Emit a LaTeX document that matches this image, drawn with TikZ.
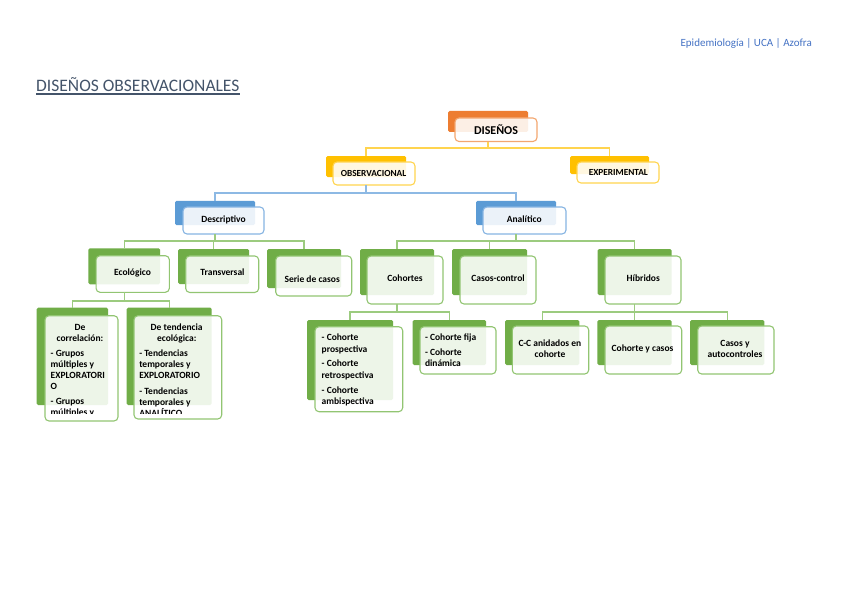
\documentclass[tikz,border=0pt]{standalone}
\usepackage{fontspec}
\setmainfont{Carlito}
\definecolor{backO}{HTML}{ED7D31}
\definecolor{bordO}{HTML}{F3A66F}
\definecolor{backY}{HTML}{FFC000}
\definecolor{bordY}{HTML}{FFD54F}
\definecolor{lineY}{HTML}{FFD44F}
\definecolor{backB}{HTML}{5B9BD5}
\definecolor{bordB}{HTML}{86B4E2}
\definecolor{lineB}{HTML}{8DB9E4}
\definecolor{backG}{HTML}{70AD47}
\definecolor{bordG}{HTML}{92C572}
\definecolor{lineG}{HTML}{9CCB7F}
\definecolor{titleC}{HTML}{44546A}
\definecolor{hdrC}{HTML}{4472C4}
\tikzset{
  backbox/.style={rectangle, rounded corners=1.5pt, inner sep=0pt, outer sep=0pt, draw=none},
  frontbox/.style={rectangle, rounded corners=4pt, inner sep=0pt, outer sep=0pt, fill=white, fill opacity=0.88, line width=1.1pt},
  lbl/.style={inner sep=0pt, outer sep=0pt, font=\fontsize{9.5}{11}\selectfont\bfseries, text height=6.6pt, text depth=0pt},
  capslbl/.style={lbl, font=\fontsize{9.3}{11}\selectfont\bfseries, text height=6pt},
  mlbl/.style={inner sep=0pt, outer sep=0pt, font=\fontsize{9.5}{11}\selectfont\bfseries},
  conn/.style={line width=1.2pt},
}
\newcommand\mkbox[8]{%
  \node[backbox, fill=back#2, minimum width=#4pt, minimum height=#5pt] (#1B) at (#3) {};
  \node[frontbox, draw=bord#2, minimum width=#7pt, minimum height=#8pt] (#1) at (#6) {};
}
\begin{document}
\begin{tikzpicture}[x=1pt,y=-1pt]
\useasboundingbox (0,0) rectangle (848,599);
\fill[white] (0,0) rectangle (848,599);

% header and title
\node[anchor=base east, inner sep=0pt, font=\fontsize{11}{13}\selectfont, text=hdrC] (hdr) at (812,46.3) {Epidemiología | UCA | Azofra};
\node[anchor=base west, inner sep=0pt, font=\fontsize{17.5}{20}\selectfont, text=titleC] (title) at (36,91.5) {DISEÑOS OBSERVACIONALES};
\draw[titleC, line width=1.1pt] ([yshift=-2.5pt]title.base west) -- ([yshift=-2.5pt]title.base east);

% junction coordinates
\coordinate (disJ) at (488,148);
\coordinate (obsJ) at (366,193);
\coordinate (desJ) at (215,241);
\coordinate (anaJ) at (516,241);
\coordinate (ecoJ) at (124.2,301);
\coordinate (cohJ) at (397,312);
\coordinate (hibJ) at (634.7,312);

% boxes (back then front)
\mkbox{dis}{O}{488,121.5}{80}{21}{496,129.75}{82}{23.5}
\mkbox{obs}{Y}{366,166.5}{80}{21}{374,173.5}{82}{23}
\mkbox{exp}{Y}{609.5,165}{79}{18}{618,172.5}{82}{21}
\mkbox{des}{B}{215,212.9}{80}{24.3}{223.5,220.5}{81}{27}
\mkbox{ana}{B}{516,212.9}{80}{24.3}{524.5,220.5}{83}{27}
\mkbox{eco}{G}{124.2,266.3}{71.7}{36}{132.7,274}{73.3}{36.6}
\mkbox{tra}{G}{213.5,266.5}{71}{35}{222.2,274.2}{73}{36.5}
\mkbox{ser}{G}{304,268.5}{74}{39}{313.7,276}{76}{40}
\mkbox{coh}{G}{397,272}{74}{46}{405,280}{76}{48}
\mkbox{cc}{G}{489.5,272}{75}{46}{498,280}{76}{48}
\mkbox{hib}{G}{634.7,272}{74}{46}{643,280}{76}{48}
\mkbox{cor}{G}{72.35,356.35}{71.3}{97.3}{81.5,368.35}{73}{105.3}
\mkbox{ten}{G}{169.2,356.35}{85}{97.3}{177.85,367.35}{87.7}{103.3}
\mkbox{cp}{G}{350,360}{86}{80}{358.85,369.2}{87.7}{85}
\mkbox{cf}{G}{449.35,342.5}{73.3}{45}{458,350.35}{76}{47.3}
\mkbox{cca}{G}{542.15,342.5}{74.3}{45}{550.5,350}{76.4}{48}
\mkbox{cyc}{G}{634.5,342.5}{74.4}{45}{643.35,350}{76.7}{48}
\mkbox{cya}{G}{727.15,342.5}{74.3}{45}{735.85,350}{76.3}{48}

% connectors
\begin{scope}[on background layer/.try]
\end{scope}
\draw[conn, lineY] (disB.center |- dis.south) -- (disJ);
\draw[conn, lineY] (disJ) -| (obsB.north);
\draw[conn, lineY] (disJ) -| (expB.north);
\draw[conn, lineB] (obsB.center |- obs.south) -- (obsJ);
\draw[conn, lineB] (obsJ) -| (desB.north);
\draw[conn, lineB] (obsJ) -| (anaB.north);
\draw[conn, lineG] (desB.center |- des.south) -- (desJ);
\draw[conn, lineG] (desJ) -| (ecoB.north);
\draw[conn, lineG] (desJ) -| (traB.north);
\draw[conn, lineG] (desJ) -| (serB.north);
\draw[conn, lineG] (anaB.center |- ana.south) -- (anaJ);
\draw[conn, lineG] (anaJ) -| (cohB.north);
\draw[conn, lineG] (anaJ) -| (ccB.north);
\draw[conn, lineG] (anaJ) -| (hibB.north);
\draw[conn, lineG] (ecoB.center |- eco.south) -- (ecoJ);
\draw[conn, lineG] (ecoJ) -| (corB.north);
\draw[conn, lineG] (ecoJ) -| (tenB.north);
\draw[conn, lineG] (cohB.center |- coh.south) -- (cohJ);
\draw[conn, lineG] (cohJ) -| (cpB.north);
\draw[conn, lineG] (cohJ) -| (cfB.north);
\draw[conn, lineG] (hibB.center |- hib.south) -- (hibJ);
\draw[conn, lineG] (hibJ) -| (ccaB.north);
\draw[conn, lineG] (hibJ) -| (cycB.north);
\draw[conn, lineG] (hibJ) -| (cyaB.north);

% labels
\node[lbl, font=\fontsize{12}{14}\selectfont\bfseries, text height=7.7pt] (disT) at (496,131) {DISEÑOS};
\node[capslbl] (obsT) at (373.5,173) {OBSERVACIONAL};
\node[capslbl] (expT) at (618.3,172.7) {EXPERIMENTAL};
\node[lbl] (desT) at (223.5,219.3) {Descriptivo};
\node[lbl] (anaT) at (524.2,219.3) {Analítico};
\node[lbl] (ecoT) at (132.5,272.3) {Ecológico};
\node[lbl] (traT) at (222.5,271.7) {Transversal};
\node[lbl] (serT) at (312.2,279.3) {Serie de casos};
\node[lbl] (cohT) at (405,278.3) {Cohortes};
\node[lbl] (ccT) at (498,278.3) {Casos-control};
\node[lbl] (hibT) at (643.3,278.3) {Híbridos};
\node[lbl] (cycT) at (642.5,348.3) {Cohorte y casos};
\node[mlbl, align=center, anchor=north] (ccaT) at (550,338.9) {\strut C-C anidados en\\[-0.3pt]cohorte};
\node[mlbl, align=center, anchor=north] (cyaT) at (735,338.9) {\strut Casos y\\[-0.3pt]autocontroles};
\node[mlbl, align=center, anchor=north] (corH) at (80,322.3) {\strut De\\[0.6pt]correlación:};
\node[mlbl, align=center, anchor=north] (tenH) at (176.7,322.9) {\strut De tendencia\\ecológica:};
\begin{scope}
  \clip (30,300) rectangle (230,413.5);
  \node[mlbl, align=left, anchor=north west] (corT) at (50.7,348.9) {\strut - Grupos\\múltiples y\\EXPLORATORI\\O\\[3.4pt]- Grupos\\múltiples y};
  \node[mlbl, align=left, anchor=north west] (tenT) at (139.3,348.9) {\strut - Tendencias\\temporales y\\EXPLORATORIO\\[4.4pt]- Tendencias\\temporales y\\ANALÍTICO};
\end{scope}
\node[mlbl, align=left, anchor=north west] (cpT) at (321.7,332.9) {\strut - Cohorte\\[1pt]prospectiva\\[3pt]- Cohorte\\[1pt]retrospectiva\\[3.7pt]- Cohorte\\ambispectiva};
\node[mlbl, align=left, anchor=north west] (cfT) at (425,332.9) {\strut - Cohorte fija\\[3.9pt]- Cohorte\\dinámica};
\end{tikzpicture}
\end{document}
